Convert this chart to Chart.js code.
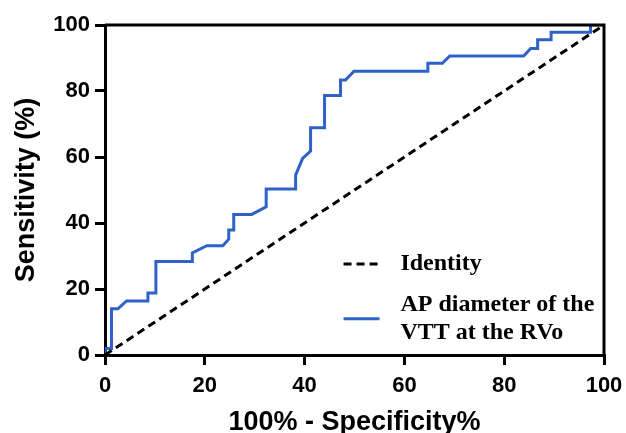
<!DOCTYPE html>
<html>
<head>
<meta charset="utf-8">
<script src="https://cdn.jsdelivr.net/npm/chart.js@4/dist/chart.umd.min.js"></script>
<style>
  html,body{margin:0;padding:0;background:#fff;}
  #wrap{width:626px;height:433px;}
</style>
</head>
<body>
<div id="wrap"><canvas id="roc"></canvas></div>
<script>
// ROC curve
const rocX = [0,0,1.3,1.3,2.6,4.3,8.6,8.6,10.2,10.2,17.5,17.5,20.4,23.6,24.8,24.8,25.8,25.8,29.4,32.3,32.3,38.2,38.2,39.6,41.2,41.2,44,44,47.2,47.2,48.2,49.9,64.7,64.7,67.6,69.1,83.9,85.3,86.7,86.7,89.4,89.4,97.3,97.3,100];
const rocY = [0,2,2,14,14,16.4,16.4,18.8,18.8,28.3,28.3,30.9,33.1,33.1,35.1,37.9,37.9,42.6,42.6,44.9,50.3,50.3,54.5,59.6,61.8,68.9,68.9,78.6,78.6,83.3,83.3,86,86,88.4,88.4,90.6,90.6,92.9,92.9,95.5,95.5,97.8,97.8,100,100];
const identityX = [0,100];
const identityY = [0,100];
const tickValues = [0,20,40,60,80,100];
const xTitle = '100% - Specificity%';
const yTitle = 'Sensitivity (%)';
const identityLabel = 'Identity';
const rocLabel = ['AP diameter of the','VTT at the RVo'];

const toPts=(xs,ys)=>xs.map((x,i)=>({x,y:ys[i]}));

// box frame + legend inside the plot
const framePlugin={
  id:'frame',
  afterDatasetsDraw(chart){
    const {ctx,chartArea:a}=chart;
    ctx.save();
    ctx.strokeStyle='#000';ctx.lineWidth=3;
    ctx.beginPath();
    ctx.moveTo(a.left,a.top);ctx.lineTo(a.right,a.top);ctx.lineTo(a.right,a.bottom);
    ctx.stroke();
    // legend
    const xs=chart.scales.x, ys=chart.scales.y;
    const lx=xs.getPixelForValue(47.8), tx=xs.getPixelForValue(59.2);
    ctx.font='bold 24px "Liberation Serif", "Times New Roman", serif';
    ctx.fillStyle='#000';ctx.textBaseline='middle';ctx.textAlign='left';
    const rows=[27.6,15.2];
    chart.data.datasets.forEach((ds,i)=>{
      const yy=ys.getPixelForValue(rows[i]);
      const lines=Array.isArray(ds.label)?ds.label:[ds.label];
      const sy=yy+(lines.length-1)*14;
      ctx.strokeStyle=ds.borderColor;ctx.lineWidth=3;
      ctx.setLineDash(ds.borderDash||[]);
      ctx.beginPath();ctx.moveTo(lx,sy);ctx.lineTo(lx+36,sy);ctx.stroke();
      ctx.setLineDash([]);
      lines.forEach((t,k)=>ctx.fillText(t,tx,yy+k*28));
    });
    ctx.restore();
  }
};

const tickFont={family:'"Liberation Sans", Arial, sans-serif',size:22,weight:'bold'};
const titleFont={family:'"Liberation Sans", Arial, sans-serif',size:27,weight:'bold'};

new Chart(document.getElementById('roc'),{
  type:'line',
  data:{datasets:[
    {label:identityLabel,data:toPts(identityX,identityY),borderColor:'#000',borderWidth:3,borderDash:[8,5],pointRadius:0,fill:false},
    {label:rocLabel,data:toPts(rocX,rocY),borderColor:'#2f62c6',borderWidth:3,pointRadius:0,fill:false,tension:0}
  ]},
  options:{
    responsive:true,maintainAspectRatio:false,animation:false,
    layout:{padding:{left:6,top:25,right:22,bottom:0}},
    plugins:{legend:{display:false},tooltip:{enabled:false}},
    scales:{
      x:{type:'linear',min:0,max:100,
        afterBuildTicks:s=>{s.ticks=tickValues.map(v=>({value:v}));},
        afterFit:s=>{s.height=78;s.paddingRight=0;s.paddingLeft=0;},
        ticks:{color:'#000',font:tickFont,padding:8,maxRotation:0},
        grid:{drawOnChartArea:false,drawTicks:true,tickLength:10,color:'#000',lineWidth:3},
        border:{display:true,color:'#000',width:3},
        title:{display:true,text:xTitle,color:'#000',font:titleFont,padding:{top:0,bottom:-6}}
      },
      y:{type:'linear',min:0,max:100,
        afterBuildTicks:s=>{s.ticks=tickValues.map(v=>({value:v}));},
        afterFit:s=>{s.width=99;},
        ticks:{color:'#000',font:tickFont,padding:5},
        grid:{drawOnChartArea:false,drawTicks:true,tickLength:10,color:'#000',lineWidth:3},
        border:{display:true,color:'#000',width:3},
        title:{display:true,text:yTitle,color:'#000',font:titleFont,padding:{top:4,bottom:0}}
      }
    }
  },
  plugins:[framePlugin]
});
</script>
</body>
</html>
